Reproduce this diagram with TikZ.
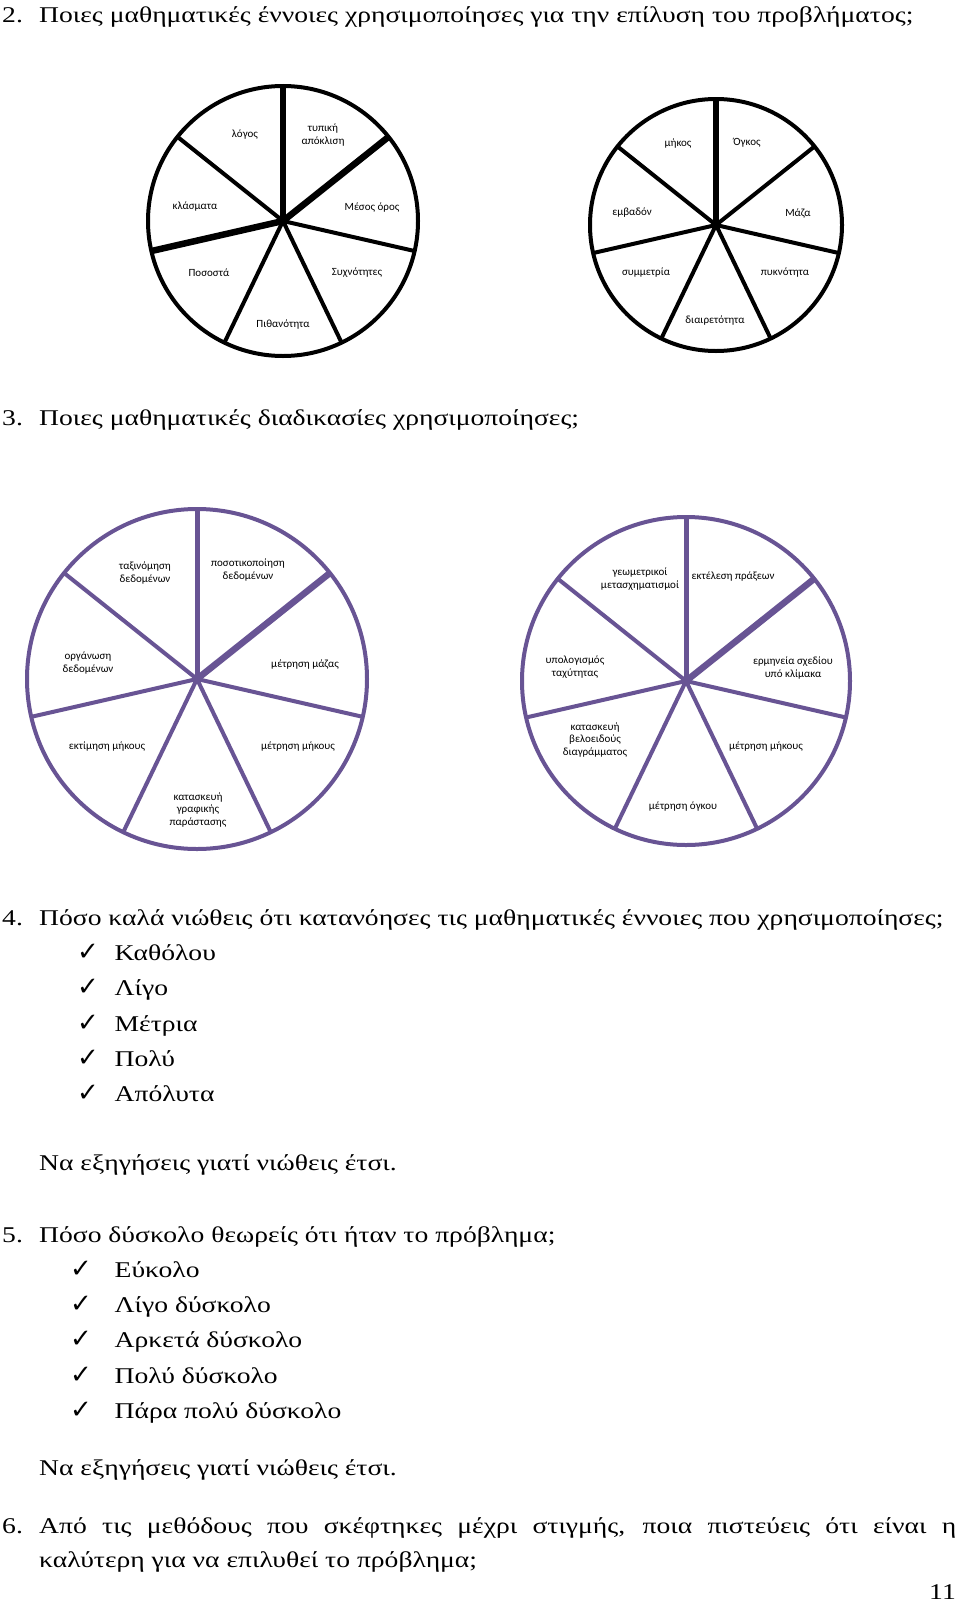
\documentclass[tikz,border=0pt]{standalone}
\usepackage{fontspec}
\setmainfont[FakeStretch=1.227]{Liberation Serif}
\newfontfamily\lblfont{Carlito}
\newfontfamily\tickfont{DejaVu Sans}
\definecolor{wheelpurple}{RGB}{104,84,148}
\tikzset{
  question/.style={anchor=base west,inner sep=0pt,font=\fontsize{22.5}{27}\selectfont},
  checkmark/.style={anchor=base west,inner sep=0pt,font=\tickfont\fontsize{26}{30}\selectfont},
  wheellabel/.style={align=center,inner sep=0pt,font=\lblfont\fontsize{11}{12.5}\selectfont},
  rim/.style={line width=4pt},
  spoke/.style={line width=4pt},
  boldspoke/.style={line width=6.5pt},
}

\begin{document}
\begin{tikzpicture}[x=1pt,y=-1pt]
\useasboundingbox[fill=white] (0,0) rectangle (960,1603);

% question 2
\node[question] (n2) at (2,23) {2.};
\node[question] (q2) at (39,23) {Ποιες μαθηματικές έννοιες χρησιμοποίησες για την επίλυση του προβλήματος;};

\coordinate (w1) at (283,221);
\draw[rim] (w1) circle (135);
\foreach \k in {0,...,6}
  \draw[spoke] (w1) -- ++(-90+\k*360/7:135);
\foreach \k in {0,1,5}
  \draw[boldspoke] (w1) -- ++(-90+\k*360/7:135);
\node[wheellabel] (a1) at (245,135) {λόγος};
\node[wheellabel] (a2) at (323,135) {τυπική\\απόκλιση};
\node[wheellabel] (a3) at (195,207) {κλάσματα};
\node[wheellabel] (a4) at (372,208) {Μέσος όρος};
\node[wheellabel] (a5) at (209,273) {Ποσοστά};
\node[wheellabel] (a6) at (357,273) {Συχνότητες};
\node[wheellabel] (a7) at (283,325) {Πιθανότητα};

\coordinate (w2) at (716,225);
\draw[rim] (w2) circle (126);
\foreach \k in {0,...,6}
  \draw[spoke] (w2) -- ++(-90+\k*360/7:126);
\draw[boldspoke] (w2) -- ++(-90:126);
\node[wheellabel] (b1) at (678,144) {μήκος};
\node[wheellabel] (b2) at (747,143) {Όγκος};
\node[wheellabel] (b3) at (632,213) {εμβαδόν};
\node[wheellabel] (b4) at (798,213) {Μάζα};
\node[wheellabel] (b5) at (646,273) {συμμετρία};
\node[wheellabel] (b6) at (785,273) {πυκνότητα};
\node[wheellabel] (b7) at (715,321) {διαιρετότητα};

% question 3
\node[question] (n3) at (2,425.5) {3.};
\node[question] (q3) at (39,425.5) {Ποιες μαθηματικές διαδικασίες χρησιμοποίησες;};

\begin{scope}[draw=wheelpurple]
\coordinate (w3) at (197,679);
\draw[rim] (w3) circle (170);
\foreach \k in {0,...,6}
  \draw[spoke] (w3) -- ++(-90+\k*360/7:170);
\draw[line width=5pt] (w3) -- ++(-90:170);
\draw[boldspoke] (w3) -- ++(-90+360/7:170);

\coordinate (w4) at (686,681);
\draw[rim] (w4) circle (164);
\foreach \k in {0,...,6}
  \draw[spoke] (w4) -- ++(-90+\k*360/7:164);
\draw[line width=5pt] (w4) -- ++(-90:164);
\draw[boldspoke] (w4) -- ++(-90+360/7:164);
\end{scope}
\node[wheellabel] (c1) at (145,573) {ταξινόμηση\\δεδομένων};
\node[wheellabel] (c2) at (248,570) {ποσοτικοποίηση\\δεδομένων};
\node[wheellabel] (c3) at (88,663) {οργάνωση\\δεδομένων};
\node[wheellabel] (c4) at (305,665) {μέτρηση μάζας};
\node[wheellabel] (c5) at (107,747) {εκτίμηση μήκους};
\node[wheellabel] (c6) at (298,747) {μέτρηση μήκους};
\node[wheellabel] (c7) at (198,810) {κατασκευή\\γραφικής\\παράστασης};

\node[wheellabel] (d1) at (640,579) {γεωμετρικοί\\μετασχηματισμοί};
\node[wheellabel] (d2) at (733,577) {εκτέλεση πράξεων};
\node[wheellabel] (d3) at (575,667) {υπολογισμός\\ταχύτητας};
\node[wheellabel] (d4) at (793,668) {ερμηνεία σχεδίου\\υπό κλίμακα};
\node[wheellabel] (d5) at (595,740) {κατασκευή\\βελοειδούς\\διαγράμματος};
\node[wheellabel] (d6) at (766,747) {μέτρηση μήκους};
\node[wheellabel] (d7) at (683,807) {μέτρηση όγκου};

% question 4
\node[question] (n4) at (2,925.5) {4.};
\node[question] (q4) at (39,925.5) {Πόσο καλά νιώθεις ότι κατανόησες τις μαθηματικές έννοιες που χρησιμοποίησες;};
\foreach \t [count=\i] in {Καθόλου,Λίγο,Μέτρια,Πολύ,Απόλυτα} {
  \node[checkmark] (k\i) at (77,925.5+\i*35.2) {✓};
  \node[question] (r\i) at (114.5,925.5+\i*35.2) {\t};
}
\node[question] (e4) at (39,1170.8) {Να εξηγήσεις γιατί νιώθεις έτσι.};

% question 5
\node[question] (n5) at (2,1242.2) {5.};
\node[question] (q5) at (39,1242.2) {Πόσο δύσκολο θεωρείς ότι ήταν το πρόβλημα;};
\foreach \t [count=\i] in {Εύκολο,Λίγο δύσκολο,Αρκετά δύσκολο,Πολύ δύσκολο,Πάρα πολύ δύσκολο} {
  \node[checkmark] (m\i) at (70,1242.2+\i*35.2) {✓};
  \node[question] (s\i) at (114.5,1242.2+\i*35.2) {\t};
}
\node[question] (e5) at (39,1475.5) {Να εξηγήσεις γιατί νιώθεις έτσι.};

% question 6
\node[question] (n6) at (2,1533.8) {6.};
\node[question] (q6) at (39,1533.8) {\makebox[917pt][s]{Από τις μεθόδους που σκέφτηκες μέχρι στιγμής, ποια πιστεύεις ότι είναι η}};
\node[question] (q6b) at (39,1567.5) {καλύτερη για να επιλυθεί το πρόβλημα;};

\node[question,anchor=base east] (page) at (956,1599) {11};
\end{tikzpicture}
\end{document}
